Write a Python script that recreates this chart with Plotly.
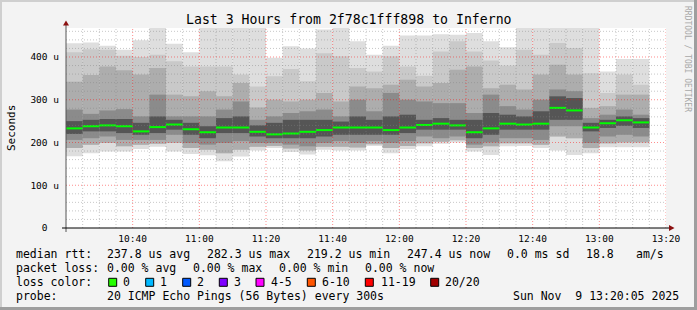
import plotly.graph_objects as go
import pandas as pd

# ---------------- data ----------------
t_start = pd.Timestamp("2025-11-09 10:20:00")
t_end = pd.Timestamp("2025-11-09 13:20:00")
n_bars = 35
bar_starts = pd.date_range(t_start, periods=n_bars, freq="5min")

# RTT distribution per 5-minute step (microseconds)
p_max = [432, 434, 426, 417, 439, 470, 431, 411, 470, 470, 470, 470, 398, 425, 420, 464, 470, 437,
         405, 426, 450, 450, 453, 452, 456, 437, 423, 470, 470, 470, 470, 470, 366, 395, 395]
p_hi2 = [411, 418, 417, 403, 400, 405, 390, 378, 378, 378, 359, 331, 355, 372, 343, 409, 402, 374,
         366, 402, 378, 356, 413, 437, 413, 392, 380, 417, 405, 433, 421, 362, 316, 359, 335]
p_hi3 = [342, 358, 378, 369, 359, 374, 312, 308, 320, 308, 339, 282, 300, 296, 300, 316, 296, 331,
         327, 335, 347, 331, 339, 370, 378, 327, 335, 324, 359, 382, 359, 281, 285, 312, 312]
p_hi4 = [277, 267, 275, 278, 261, 312, 261, 261, 261, 277, 296, 253, 261, 269, 273, 277, 261, 300,
         273, 316, 300, 296, 292, 292, 269, 312, 285, 277, 300, 324, 320, 257, 265, 277, 265]
p_hi5 = [250, 253, 255, 255, 246, 261, 253, 246, 238, 257, 261, 240, 246, 253, 253, 253, 249, 261,
         253, 261, 265, 253, 257, 253, 253, 269, 265, 261, 273, 308, 304, 246, 253, 261, 257]
median = [233, 238, 240, 238, 226, 236, 242, 231, 224, 235, 235, 225, 219, 221, 225, 229, 235, 235,
          235, 229, 235, 241, 244, 240, 224, 233, 244, 242, 244, 281, 275, 235, 245, 252, 247]
p_lo1 = [220, 226, 226, 222, 218, 222, 230, 218, 210, 222, 222, 214, 210, 210, 210, 214, 218, 218,
         218, 218, 222, 230, 230, 230, 210, 218, 230, 230, 230, 253, 253, 226, 234, 239, 234]
p_lo2 = [206, 210, 214, 206, 206, 206, 218, 199, 195, 199, 203, 199, 199, 195, 191, 199, 203, 199,
         203, 199, 203, 214, 210, 214, 195, 200, 210, 210, 206, 238, 238, 199, 214, 218, 214]
p_lo3 = [187, 195, 199, 191, 195, 197, 199, 187, 183, 175, 183, 190, 192, 186, 181, 190, 190, 188,
         196, 187, 192, 198, 202, 205, 187, 191, 198, 198, 195, 214, 210, 187, 198, 200, 200]
p_min = [168, 175, 179, 179, 185, 190, 179, 173, 170, 156, 167, 181, 187, 178, 172, 183, 181, 181,
         192, 175, 185, 191, 197, 200, 179, 171, 191, 192, 187, 181, 171, 175, 189, 189, 189]

x_tick_labels = ["10:40", "11:00", "11:20", "11:40", "12:00", "12:20", "12:40", "13:00", "13:20"]
y_tick_values = [0, 100, 200, 300, 400]
y_tick_labels = ["0\u00a0\u00a0", "100 u", "200 u", "300 u", "400 u"]

loss_labels = ["0", "1", "2", "3", "4-5", "6-10", "11-19", "20/20"]
loss_colors = ["#26ff00", "#00b8ff", "#0059ff", "#7e00ff", "#ff00ff", "#ff5500", "#ff0000", "#a10000"]

# ---------------- geometry ----------------
W, H = 697, 310
L, T, PW, PH = 66, 28, 600, 200
R = W - L - PW
B = H - T - PH
Y_MAX = 467.8
MONO = "DejaVu Sans Mono"


def px(xp):
    return (xp - L) / PW


def py(yp):
    return (T + PH - yp) / PH


step = pd.Timedelta(minutes=5)
centers = [s + step / 2 for s in bar_starts]
width_ms = step.total_seconds() * 1000

fig = go.Figure()

bands = [
    (p_min, p_max, "#dedede"),
    (p_lo3, p_hi2, "#c9c9c9"),
    (p_lo3, p_hi3, "#adadad"),
    (p_lo2, p_hi4, "#8b8b8b"),
    (p_lo1, p_hi5, "#555555"),
]
for lo, hi, col in bands:
    fig.add_trace(go.Bar(
        x=centers, base=lo, y=[h - l for h, l in zip(hi, lo)], width=width_ms,
        marker=dict(color=col, line=dict(width=0)), hoverinfo="skip", showlegend=False))

# median segments
mx, my = [], []
for s, m in zip(bar_starts, median):
    mx += [s, s + step, None]
    my += [m, m, None]
fig.add_trace(go.Scatter(x=mx, y=my, mode="lines", line=dict(color="#00ff00", width=2),
                         hoverinfo="skip", showlegend=False))

shapes = []
# grid (drawn above smoke, like rrdtool)
t = t_start + step
while t <= t_end:
    major = (t.minute % 20 == 0)
    shapes.append(dict(type="line", xref="x", yref="paper", x0=t, x1=t, y0=0, y1=1, layer="above",
                       line=dict(color="rgba(255,0,0,0.45)" if major else "rgba(130,130,130,0.45)",
                                 width=1, dash="1px,2px")))
    t += step
for v in range(20, int(Y_MAX) + 1, 20):
    major = (v % 100 == 0)
    shapes.append(dict(type="line", xref="paper", yref="y", x0=0, x1=1, y0=v, y1=v, layer="above",
                       line=dict(color="rgba(255,0,0,0.45)" if major else "rgba(130,130,130,0.45)",
                                 width=1, dash="1px,2px")))
# axes
shapes.append(dict(type="line", xref="paper", yref="paper", x0=0, x1=0, y0=py(232), y1=py(25),
                   line=dict(color="#555555", width=1), layer="above"))
shapes.append(dict(type="line", xref="paper", yref="paper", x0=px(62), x1=px(670), y0=0, y1=0,
                   line=dict(color="#000000", width=1), layer="above"))
# arrows
shapes.append(dict(type="path", xref="paper", yref="paper",
                   path=f"M {px(63)} {py(25.5)} L {px(69)} {py(25.5)} L {px(66)} {py(20.5)} Z",
                   fillcolor="#8b1010", line=dict(width=0), layer="above"))
shapes.append(dict(type="path", xref="paper", yref="paper",
                   path=f"M {px(669)} {py(225)} L {px(669)} {py(231)} L {px(674.5)} {py(228)} Z",
                   fillcolor="#8b1010", line=dict(width=0), layer="above"))
# frame shading
shapes += [
    dict(type="rect", xref="paper", yref="paper", x0=px(0), x1=px(W), y0=py(0), y1=py(2),
         fillcolor="#cfcfcf", line=dict(width=0)),
    dict(type="rect", xref="paper", yref="paper", x0=px(0), x1=px(2), y0=py(0), y1=py(H),
         fillcolor="#cfcfcf", line=dict(width=0)),
    dict(type="rect", xref="paper", yref="paper", x0=px(0), x1=px(W), y0=py(H - 3), y1=py(H),
         fillcolor="#9e9e9e", line=dict(width=0)),
    dict(type="rect", xref="paper", yref="paper", x0=px(W - 3), x1=px(W), y0=py(0), y1=py(H),
         fillcolor="#9e9e9e", line=dict(width=0)),
]

annotations = []


def txt(x, y, s, size=11.5, anchor="left", color="#000000", angle=0):
    annotations.append(dict(xref="paper", yref="paper", x=px(x), y=py(y), text=s, showarrow=False,
                            xanchor=anchor, yanchor="middle", textangle=angle,
                            font=dict(family=MONO, size=size, color=color),
                            borderpad=0, borderwidth=0))


txt(W / 2, 19, "Last 3 Hours from 2f78c1fff898 to Inferno", size=13.2, anchor="center")
txt(11, 128, "Seconds", size=11, anchor="center", angle=-90)
txt(688, 59, "RRDTOOL / TOBI OETIKER", size=8, anchor="center", color="#a8a8a8", angle=90)

y1, y2, y3, y4 = 254.3, 268.3, 282.3, 296
txt(16, y1, "median rtt:")
txt(107.3, y1, "237.8 us avg")
txt(207.3, y1, "282.3 us max")
txt(307.3, y1, "219.2 us min")
txt(407.3, y1, "247.4 us now")
txt(507.3, y1, "0.0 ms sd")
txt(586, y1, "18.8")
txt(636, y1, "am/s")
txt(16, y2, "packet loss:")
txt(107.3, y2, "0.00 % avg")
txt(193.3, y2, "0.00 % max")
txt(279.3, y2, "0.00 % min")
txt(365.3, y2, "0.00 % now")
txt(16, y3, "loss color:")
box_x = [108.7, 145.7, 182.7, 219.3, 256, 307.3, 365.3, 430.7]
lab_x = [123.3, 160.3, 197.3, 234, 270.7, 322, 380.7, 445.3]
for bx, lx, lab, col in zip(box_x, lab_x, loss_labels, loss_colors):
    shapes.append(dict(type="rect", xref="paper", yref="paper", x0=px(bx), x1=px(bx + 8),
                       y0=py(y3 + 4), y1=py(y3 - 4), fillcolor=col, line=dict(color="#000000", width=1)))
    txt(lx, y3, lab)
txt(16, y4, "probe:")
txt(107.3, y4, "20 ICMP Echo Pings (56 Bytes) every 300s")
txt(513.3, y4, "Sun Nov\u00a0\u00a09 13:20:05 2025")

tick_vals = [t_start + pd.Timedelta(minutes=20 * (i + 1)) for i in range(len(x_tick_labels))]

fig.update_layout(
    width=W, height=H, margin=dict(l=L, r=R, t=T, b=B, pad=0, autoexpand=False),
    paper_bgcolor="#f3f3f3", plot_bgcolor="#ffffff",
    barmode="overlay", showlegend=False,
    shapes=shapes, annotations=annotations,
    xaxis=dict(type="date", range=[t_start, t_end], showgrid=False, zeroline=False, showline=False,
               tickvals=tick_vals, ticktext=x_tick_labels, ticks="", ticklabelstandoff=3,
               tickfont=dict(family=MONO, size=9.5, color="#000000"), fixedrange=True),
    yaxis=dict(range=[0, Y_MAX], showgrid=False, zeroline=False, showline=False,
               tickvals=y_tick_values, ticktext=y_tick_labels, ticks="", ticklabelstandoff=6,
               tickfont=dict(family=MONO, size=9.5, color="#000000"), fixedrange=True),
)

fig.write_html("out.html")
